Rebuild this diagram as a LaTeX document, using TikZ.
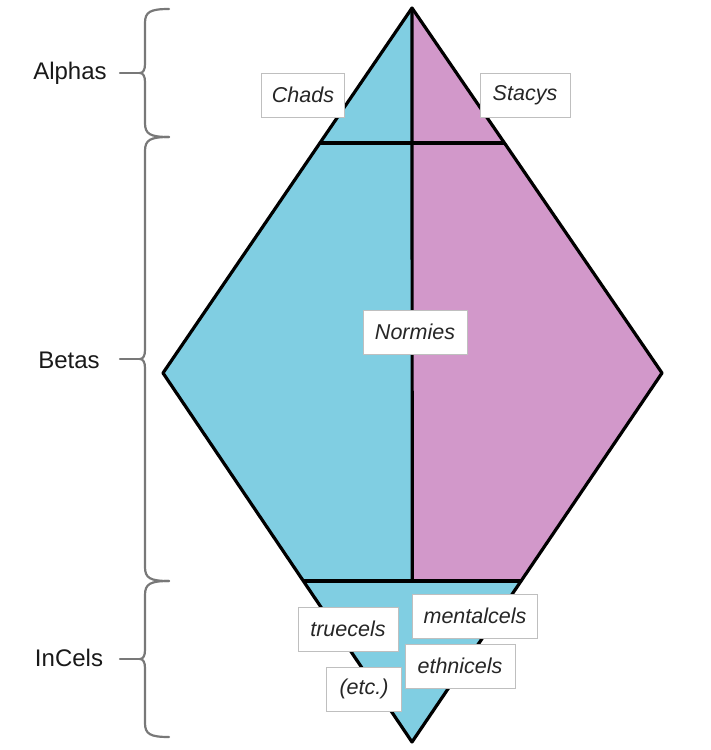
\documentclass[tikz,border=0pt]{standalone}
\usepackage{fontspec}
\setmainfont{Liberation Sans}
\usetikzlibrary{calc,positioning}

\definecolor{menblue}{RGB}{128,206,226}
\definecolor{womenpink}{RGB}{210,152,202}
\definecolor{bracegray}{RGB}{120,120,120}

% brace on the left: name of tip, top, middle, bottom
\newcommand{\sidebrace}[4]{%
  \draw[brace] (169,#2) .. controls (150,#2) and (145,#2+3) .. (145,#2+14)
    -- (145,#3-9) .. controls (145,#3-3) and (143,#3) .. (140,#3) coordinate (#1)
    .. controls (143,#3) and (145,#3+3) .. (145,#3+9)
    -- (145,#4-14) .. controls (145,#4-3) and (150,#4) .. (169,#4);
}

\begin{document}
\begin{tikzpicture}[x=1pt,y=-1pt]

  \tikzstyle{tag} = [draw=black!25, fill=white, rectangle, inner sep=0pt, minimum height=44pt, text=black!85, font=\fontsize{21.5}{24}\selectfont\itshape, line width=0.8pt]
  \tikzstyle{side} = [text=black!90, font=\fontsize{24}{28}\selectfont, anchor=base]
  \tikzstyle{edge} = [line width=3.2pt, line join=round]
  \tikzstyle{brace} = [draw=bracegray, line width=2.2pt, line cap=round]

  \useasboundingbox (0,0) rectangle (710,750);

  % corners of the diamond
  \coordinate (apex) at (412,8);
  \coordinate (west) at (163,373);
  \coordinate (east) at (662,373);
  \coordinate (foot) at (412,742);
  % ends of the split lines
  \coordinate (al) at ($(apex)!0.37!(west)$);
  \coordinate (ar) at ($(apex)!0.37!(east)$);
  \coordinate (il) at ($(west)!0.5637!(foot)$);
  \coordinate (ir) at ($(east)!0.5637!(foot)$);
  \coordinate (im) at ($(il)!0.5!(ir)$);

  \fill[menblue] (apex) -- (west) -- (foot) -- (ir) -- (im) -- cycle;
  \fill[womenpink] (apex) -- (east) -- (ir) -- (im) -- cycle;
  \draw[edge] (apex) -- (west) -- (foot) -- (east) -- cycle;
  \draw[edge] (apex) -- (im);
  \draw[edge] (al) -- (ar);
  \draw[edge] (il) -- (ir);

  % labels in the diamond
  \node[tag, minimum width=83pt] (chads) at (303,95) {Chads};
  \node[tag, minimum width=90pt] (stacys) at (525,95) {Stacys};
  \node[tag, minimum width=104pt] (normies) at (415,332) {Normies};
  \node[tag, minimum width=125pt] (mental) at (475,616) {mentalcels};
  \node[tag, minimum width=100pt] (true) at (348,629) {truecels};
  \node[tag, minimum width=110pt] (ethnic) at (460,666) {ethnicels};
  \node[tag, minimum width=75pt] (etc) at (364,689) {(etc.)};

  % groups on the left
  \node[side] (alphas) at (70,79) {Alphas};
  \node[side] (betas) at (69,368) {Betas};
  \node[side] (incels) at (69,666) {InCels};

  \sidebrace{tipA}{9}{73}{137}
  \sidebrace{tipB}{137}{359}{581}
  \sidebrace{tipI}{581}{659}{737}

  \draw[brace] (tipA) -- ++(-20,0);
  \draw[brace] (tipB) -- ++(-20,0);
  \draw[brace] (tipI) -- ++(-20,0);

\end{tikzpicture}
\end{document}
